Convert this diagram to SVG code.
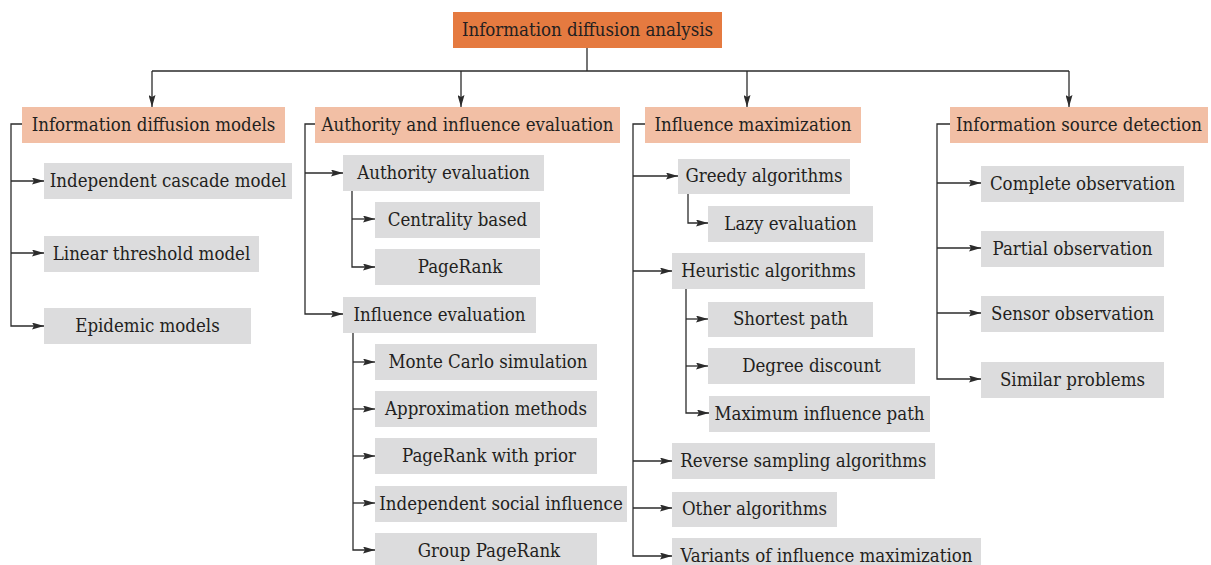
<svg xmlns="http://www.w3.org/2000/svg" width="1211" height="565" viewBox="0 0 1211 565">
<defs>
<style>
.t{font-family:"DejaVu Serif",serif;font-stretch:condensed;font-size:18.5px;fill:#231F20;text-anchor:middle}
.root{fill:#E57A40}
.l1{fill:#F2BFA5}
.l2{fill:#DCDCDD}
.c{fill:none;stroke:#2b2b2b;stroke-width:1.3}
</style>
<marker id="ah" viewBox="0 0 12 7" refX="12" refY="3.5" markerWidth="12" markerHeight="7" orient="auto" markerUnits="userSpaceOnUse"><path d="M0,0 L12,3.5 L0,7 L2,3.5 z" fill="#2b2b2b"/></marker>
</defs>
<rect width="1211" height="565" fill="#fff"/>
<g id="connectors">
<path class="c" d="M587,48 V71 M152,71 H1069"/>
<path class="c" d="M152,71 V107" marker-end="url(#ah)"/>
<path class="c" d="M461,71 V107" marker-end="url(#ah)"/>
<path class="c" d="M747,71 V107" marker-end="url(#ah)"/>
<path class="c" d="M1069,71 V107" marker-end="url(#ah)"/>
<path class="c" d="M22,124 H11 V326 H44" marker-end="url(#ah)"/>
<path class="c" d="M11,181 H44" marker-end="url(#ah)"/>
<path class="c" d="M11,253 H44" marker-end="url(#ah)"/>
<path class="c" d="M315,124 H305 V314 H343" marker-end="url(#ah)"/>
<path class="c" d="M305,173 H343" marker-end="url(#ah)"/>
<path class="c" d="M352,191 V267 H375" marker-end="url(#ah)"/>
<path class="c" d="M352,219 H375" marker-end="url(#ah)"/>
<path class="c" d="M353,333 V550 H375" marker-end="url(#ah)"/>
<path class="c" d="M353,362 H375" marker-end="url(#ah)"/>
<path class="c" d="M353,409 H375" marker-end="url(#ah)"/>
<path class="c" d="M353,456 H375" marker-end="url(#ah)"/>
<path class="c" d="M353,503 H375" marker-end="url(#ah)"/>
<path class="c" d="M645,124 H633 V556 H672" marker-end="url(#ah)"/>
<path class="c" d="M633,176 H678" marker-end="url(#ah)"/>
<path class="c" d="M633,271 H672" marker-end="url(#ah)"/>
<path class="c" d="M633,461 H672" marker-end="url(#ah)"/>
<path class="c" d="M633,508 H672" marker-end="url(#ah)"/>
<path class="c" d="M688,194 V223 H708" marker-end="url(#ah)"/>
<path class="c" d="M686,289 V413 H709" marker-end="url(#ah)"/>
<path class="c" d="M686,319 H708" marker-end="url(#ah)"/>
<path class="c" d="M686,366 H708" marker-end="url(#ah)"/>
<path class="c" d="M950,124 H937 V379 H981" marker-end="url(#ah)"/>
<path class="c" d="M937,183 H981" marker-end="url(#ah)"/>
<path class="c" d="M937,248 H981" marker-end="url(#ah)"/>
<path class="c" d="M937,313 H981" marker-end="url(#ah)"/>
</g>
<g id="root"><rect class="root" x="453" y="12" width="269" height="36"/><text class="t" x="587.5" y="36">Information diffusion analysis</text></g>
<g id="n-models"><rect class="l1" x="22" y="107" width="263" height="36"/><text class="t" x="153.5" y="131">Information diffusion models</text></g>
<g id="n-authinf"><rect class="l1" x="315" y="107" width="305" height="36"/><text class="t" x="467.5" y="131">Authority and influence evaluation</text></g>
<g id="n-max"><rect class="l1" x="645" y="107" width="216" height="36"/><text class="t" x="753" y="131">Influence maximization</text></g>
<g id="n-source"><rect class="l1" x="950" y="107" width="258" height="36"/><text class="t" x="1079" y="131">Information source detection</text></g>
<g id="n-ic"><rect class="l2" x="44" y="163" width="248" height="36"/><text class="t" x="168" y="187">Independent cascade model</text></g>
<g id="n-lt"><rect class="l2" x="44" y="236" width="215" height="36"/><text class="t" x="151.5" y="260">Linear threshold model</text></g>
<g id="n-epi"><rect class="l2" x="44" y="308" width="207" height="36"/><text class="t" x="147.5" y="332">Epidemic models</text></g>
<g id="n-autheval"><rect class="l2" x="343" y="155" width="201" height="36"/><text class="t" x="443.5" y="179">Authority evaluation</text></g>
<g id="n-central"><rect class="l2" x="375" y="202" width="165" height="36"/><text class="t" x="457.5" y="226">Centrality based</text></g>
<g id="n-pr"><rect class="l2" x="375" y="249" width="165" height="36"/><text class="t" x="460" y="273">PageRank</text></g>
<g id="n-infeval"><rect class="l2" x="343" y="297" width="193" height="36"/><text class="t" x="439.5" y="321">Influence evaluation</text></g>
<g id="n-mc"><rect class="l2" x="375" y="344" width="222" height="36"/><text class="t" x="488" y="368">Monte Carlo simulation</text></g>
<g id="n-approx"><rect class="l2" x="375" y="391" width="222" height="36"/><text class="t" x="486" y="415">Approximation methods</text></g>
<g id="n-prp"><rect class="l2" x="375" y="438" width="222" height="36"/><text class="t" x="489" y="462">PageRank with prior</text></g>
<g id="n-isi"><rect class="l2" x="375" y="486" width="252" height="36"/><text class="t" x="501" y="510">Independent social influence</text></g>
<g id="n-gpr"><rect class="l2" x="375" y="533" width="222" height="36"/><text class="t" x="489" y="557">Group PageRank</text></g>
<g id="n-greedy"><rect class="l2" x="678" y="159" width="172" height="35"/><text class="t" x="764" y="182">Greedy algorithms</text></g>
<g id="n-lazy"><rect class="l2" x="708" y="206" width="165" height="36"/><text class="t" x="790.5" y="230">Lazy evaluation</text></g>
<g id="n-heur"><rect class="l2" x="672" y="253" width="193" height="36"/><text class="t" x="768.5" y="277">Heuristic algorithms</text></g>
<g id="n-sp"><rect class="l2" x="708" y="302" width="165" height="35"/><text class="t" x="790.5" y="325">Shortest path</text></g>
<g id="n-dd"><rect class="l2" x="708" y="348" width="207" height="36"/><text class="t" x="811.5" y="372">Degree discount</text></g>
<g id="n-mip"><rect class="l2" x="709" y="396" width="221" height="36"/><text class="t" x="819.5" y="420">Maximum influence path</text></g>
<g id="n-rs"><rect class="l2" x="672" y="443" width="263" height="36"/><text class="t" x="803.5" y="467">Reverse sampling algorithms</text></g>
<g id="n-other"><rect class="l2" x="672" y="492" width="165" height="35"/><text class="t" x="754.5" y="515">Other algorithms</text></g>
<g id="n-var"><rect class="l2" x="672" y="538" width="309" height="36"/><text class="t" x="826.5" y="562">Variants of influence maximization</text></g>
<g id="n-complete"><rect class="l2" x="981" y="166" width="203" height="36"/><text class="t" x="1082.5" y="190">Complete observation</text></g>
<g id="n-partial"><rect class="l2" x="981" y="231" width="183" height="36"/><text class="t" x="1072.5" y="255">Partial observation</text></g>
<g id="n-sensor"><rect class="l2" x="981" y="296" width="183" height="36"/><text class="t" x="1072.5" y="320">Sensor observation</text></g>
<g id="n-similar"><rect class="l2" x="981" y="362" width="183" height="36"/><text class="t" x="1072.5" y="386">Similar problems</text></g>
</svg>
